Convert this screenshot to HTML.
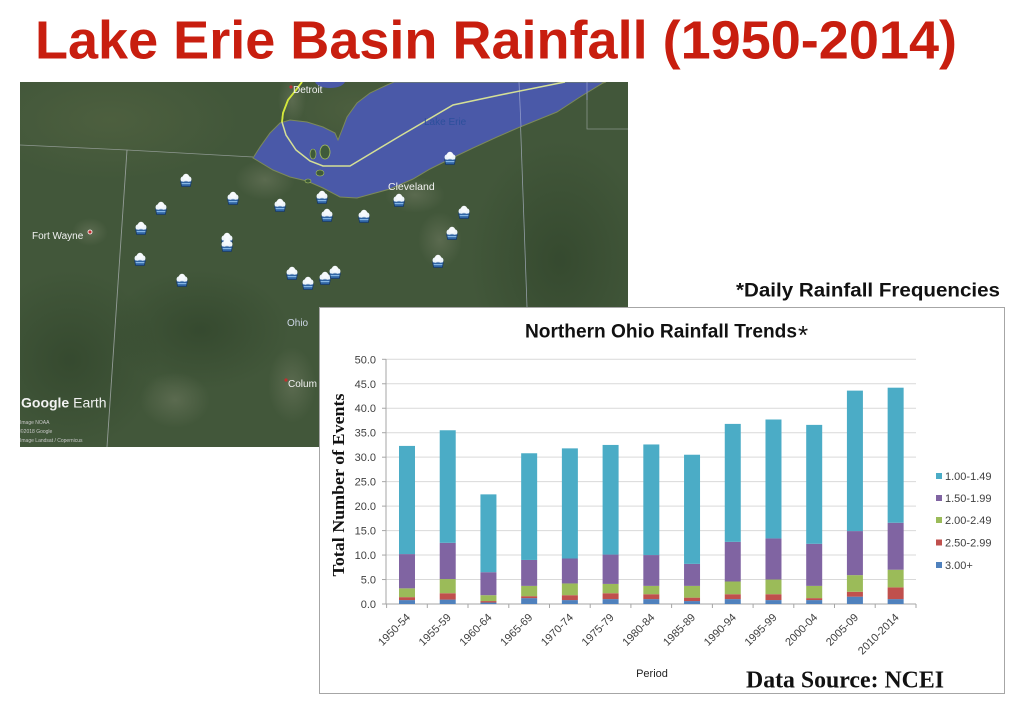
<!DOCTYPE html>
<html>
<head>
<meta charset="utf-8">
<style>
html,body{margin:0;padding:0;background:#fff;}
svg{display:block;}
</style>
</head>
<body>
<svg width="1024" height="717" viewBox="0 0 1024 717" xmlns="http://www.w3.org/2000/svg">
<defs>
  <clipPath id="mapclip"><rect x="20" y="82" width="608" height="365"/></clipPath>
  <radialGradient id="lite" cx="50%" cy="50%" r="50%">
    <stop offset="0" stop-color="#8f937c" stop-opacity="0.32"/>
    <stop offset="1" stop-color="#8f937c" stop-opacity="0"/>
  </radialGradient>
  <radialGradient id="dark" cx="50%" cy="50%" r="50%">
    <stop offset="0" stop-color="#23361f" stop-opacity="0.4"/>
    <stop offset="1" stop-color="#23361f" stop-opacity="0"/>
  </radialGradient>
  <radialGradient id="olive" cx="50%" cy="50%" r="50%">
    <stop offset="0" stop-color="#5a6944" stop-opacity="0.45"/>
    <stop offset="1" stop-color="#5a6944" stop-opacity="0"/>
  </radialGradient>
  <g id="mk">
    <path d="M-5.5,1 h11 l-1.2,5.5 h-8.6 z" fill="#2f64a4" stroke="#183a66" stroke-width="0.8"/>
    <rect x="-4.4" y="3" width="8.8" height="1.2" fill="#86b6e4"/>
    <rect x="-5.2" y="-1.2" width="10.4" height="2.6" fill="#d6e5f3"/>
    <circle cx="-2.7" cy="-1" r="2.7" fill="#eef4fa"/>
    <circle cx="2.7" cy="-1" r="2.7" fill="#eef4fa"/>
    <circle cx="0" cy="-3" r="3.2" fill="#f7fafd"/>
  </g>
</defs>

<!-- Main title -->
<text x="35" y="58.5" font-family="Liberation Sans, Arial, sans-serif" font-weight="bold" font-size="54" fill="#c81e0f" textLength="922" lengthAdjust="spacingAndGlyphs">Lake Erie Basin Rainfall (1950-2014)</text>

<!-- MAP -->
<g clip-path="url(#mapclip)">
  <rect x="20" y="82" width="608" height="365" fill="#42573a"/>
  <ellipse cx="110" cy="120" rx="130" ry="60" fill="url(#olive)"/>
  <ellipse cx="360" cy="110" rx="80" ry="40" fill="url(#olive)"/>
  <ellipse cx="70" cy="360" rx="90" ry="90" fill="url(#dark)"/>
  <ellipse cx="560" cy="260" rx="90" ry="120" fill="url(#dark)"/>
  <ellipse cx="200" cy="330" rx="90" ry="60" fill="url(#dark)"/>
  <ellipse cx="265" cy="180" rx="30" ry="20" fill="url(#lite)"/>
  <ellipse cx="292" cy="100" rx="14" ry="24" fill="url(#lite)"/>
  <ellipse cx="90" cy="232" rx="18" ry="14" fill="url(#lite)"/>
  <ellipse cx="415" cy="195" rx="30" ry="18" fill="url(#lite)"/>
  <ellipse cx="440" cy="240" rx="22" ry="28" fill="url(#lite)"/>
  <ellipse cx="292" cy="385" rx="24" ry="38" fill="url(#lite)"/>
  <ellipse cx="175" cy="400" rx="35" ry="28" fill="url(#lite)"/>

  <!-- state borders -->
  <polyline points="20,145 127,150 253,157" fill="none" stroke="#a7aeae" stroke-width="0.8" opacity="0.75"/>
  <polyline points="127,150 107,447" fill="none" stroke="#a7aeae" stroke-width="0.9" opacity="0.8"/>
  <polyline points="519,82 527,307" fill="none" stroke="#a7b0c0" stroke-width="0.8" opacity="0.8"/>
  <polyline points="587,82 587,129 628,129" fill="none" stroke="#a7aeae" stroke-width="0.8" opacity="0.7"/>

  <!-- Lake St Clair -->
  <ellipse cx="330" cy="81" rx="15" ry="7" fill="#4a59a8"/>
  <!-- Lake Erie -->
  <path d="M253,158 L260,147 L270,133 L280,123 L290,120 L307,122 L323,127 L335,133 L338,140 L342,130 L347,117 L357,103 L370,93 L387,85 L394,82 L606,82 L603,83 L580,97 L557,112 L520,127 L497,137 L473,148 L450,159 L430,169 L413,179 L390,189 L357,198 L340,197 L323,188 L307,181 L290,177 L273,170 Z" fill="#4a59a8" stroke="#7c8a5a" stroke-width="1"/>
  <line x1="519" y1="82" x2="521" y2="127" stroke="#8e98c8" stroke-width="0.8"/>
  <line x1="587" y1="82" x2="587" y2="100" stroke="#8e98c8" stroke-width="0.8"/>
  <!-- islands -->
  <ellipse cx="325" cy="152" rx="5" ry="7" fill="#3e5a3a" stroke="#a8c060" stroke-width="0.8"/>
  <ellipse cx="313" cy="154" rx="3" ry="5" fill="#3e5a3a" stroke="#a8c060" stroke-width="0.6"/>
  <ellipse cx="320" cy="173" rx="4" ry="3" fill="#3e5a3a" stroke="#a8c060" stroke-width="0.6"/>
  <ellipse cx="308" cy="181" rx="3" ry="2" fill="#3e5a3a" stroke="#a8c060" stroke-width="0.6"/>

  <!-- international border -->
  <polyline points="302,82 296,90 288,100 283,113 282,122 286,135 296,150 310,161 323,166 350,166 400,136 453,105 500,95 560,83 565,82" fill="none" stroke="#d5e096" stroke-width="1.5"/>
  <polyline points="302,82 296,90 288,100 283,113 282,122" fill="none" stroke="#d4e83a" stroke-width="1.8"/>

  <!-- labels -->
  <g font-family="Liberation Sans, Arial, sans-serif" fill="#f2f2f2">
    <circle cx="291" cy="87" r="1.6" fill="#c03030"/>
    <text x="293" y="93" font-size="10">Detroit</text>
    <text x="424" y="125" font-size="10" fill="#2c4f9c">Lake Erie</text>
    <text x="388" y="190" font-size="10.5">Cleveland</text>
    <text x="32" y="239" font-size="10">Fort Wayne</text>
    <circle cx="90" cy="232" r="2" fill="#c03030" stroke="#fff" stroke-width="0.8"/>
    <text x="287" y="326" font-size="10" fill="#cdd6e6">Ohio</text>
    <circle cx="286" cy="380" r="1.6" fill="#c03030"/>
    <text x="288" y="387" font-size="10">Colum</text>
    <text x="21" y="407.5" font-size="14"><tspan font-weight="bold">Google</tspan> Earth</text>
    <text x="20" y="424" font-size="5" fill="#c8c8c8">Image NOAA</text>
    <text x="20" y="433" font-size="5" fill="#c8c8c8">©2018 Google</text>
    <text x="20" y="442" font-size="5" fill="#c8c8c8">Image Landsat / Copernicus</text>
  </g>

  <!-- rain markers -->
  <use href="#mk" x="186" y="180"/>
  <use href="#mk" x="233" y="198"/>
  <use href="#mk" x="161" y="208"/>
  <use href="#mk" x="141" y="228"/>
  <use href="#mk" x="140" y="259"/>
  <use href="#mk" x="182" y="280"/>
  <use href="#mk" x="227" y="239"/>
  <use href="#mk" x="227" y="245"/>
  <use href="#mk" x="280" y="205"/>
  <use href="#mk" x="322" y="197"/>
  <use href="#mk" x="327" y="215"/>
  <use href="#mk" x="364" y="216"/>
  <use href="#mk" x="399" y="200"/>
  <use href="#mk" x="450" y="158"/>
  <use href="#mk" x="464" y="212"/>
  <use href="#mk" x="452" y="233"/>
  <use href="#mk" x="438" y="261"/>
  <use href="#mk" x="292" y="273"/>
  <use href="#mk" x="308" y="283"/>
  <use href="#mk" x="325" y="278"/>
  <use href="#mk" x="335" y="272"/>
</g>

<!-- Subtitle -->
<text x="736" y="296.5" font-family="Liberation Sans, Arial, sans-serif" font-weight="bold" font-size="19" fill="#111" textLength="264" lengthAdjust="spacingAndGlyphs">*Daily Rainfall Frequencies</text>

<!-- CHART BOX -->
<rect x="319.5" y="307.5" width="685" height="386" fill="#fff" stroke="#a6a6a6" stroke-width="1"/>

<text x="525" y="337.5" font-family="Liberation Sans, Arial, sans-serif" font-weight="bold" font-size="19" fill="#111" textLength="272" lengthAdjust="spacingAndGlyphs">Northern Ohio Rainfall Trends</text>
<text x="798" y="344" font-family="Liberation Sans, Arial, sans-serif" font-size="26" fill="#111">*</text>

<!-- gridlines -->
<g stroke="#d9d9d9" stroke-width="1">
  <line x1="386" y1="359.3" x2="916" y2="359.3"/>
  <line x1="386" y1="383.77" x2="916" y2="383.77"/>
  <line x1="386" y1="408.24" x2="916" y2="408.24"/>
  <line x1="386" y1="432.71" x2="916" y2="432.71"/>
  <line x1="386" y1="457.18" x2="916" y2="457.18"/>
  <line x1="386" y1="481.65" x2="916" y2="481.65"/>
  <line x1="386" y1="506.12" x2="916" y2="506.12"/>
  <line x1="386" y1="530.59" x2="916" y2="530.59"/>
  <line x1="386" y1="555.06" x2="916" y2="555.06"/>
  <line x1="386" y1="579.53" x2="916" y2="579.53"/>
</g>
<!-- axes -->
<g stroke="#a6a6a6" stroke-width="1">
  <line x1="386" y1="359" x2="386" y2="604"/>
  <line x1="382" y1="359.3" x2="386" y2="359.3"/>
  <line x1="382" y1="383.77" x2="386" y2="383.77"/>
  <line x1="382" y1="408.24" x2="386" y2="408.24"/>
  <line x1="382" y1="432.71" x2="386" y2="432.71"/>
  <line x1="382" y1="457.18" x2="386" y2="457.18"/>
  <line x1="382" y1="481.65" x2="386" y2="481.65"/>
  <line x1="382" y1="506.12" x2="386" y2="506.12"/>
  <line x1="382" y1="530.59" x2="386" y2="530.59"/>
  <line x1="382" y1="555.06" x2="386" y2="555.06"/>
  <line x1="382" y1="579.53" x2="386" y2="579.53"/>
  <line x1="382" y1="604" x2="916" y2="604"/>
  <line x1="386.6" y1="604" x2="386.6" y2="608"/>
  <line x1="427.3" y1="604" x2="427.3" y2="608"/>
  <line x1="468.0" y1="604" x2="468.0" y2="608"/>
  <line x1="508.8" y1="604" x2="508.8" y2="608"/>
  <line x1="549.5" y1="604" x2="549.5" y2="608"/>
  <line x1="590.2" y1="604" x2="590.2" y2="608"/>
  <line x1="630.9" y1="604" x2="630.9" y2="608"/>
  <line x1="671.6" y1="604" x2="671.6" y2="608"/>
  <line x1="712.4" y1="604" x2="712.4" y2="608"/>
  <line x1="753.1" y1="604" x2="753.1" y2="608"/>
  <line x1="793.8" y1="604" x2="793.8" y2="608"/>
  <line x1="834.5" y1="604" x2="834.5" y2="608"/>
  <line x1="875.2" y1="604" x2="875.2" y2="608"/>
  <line x1="916" y1="604" x2="916" y2="608"/>
</g>

<!-- y labels -->
<g font-family="Liberation Sans, Arial, sans-serif" font-size="11" fill="#404040" text-anchor="end">
  <text x="376" y="363.3">50.0</text>
  <text x="376" y="387.8">45.0</text>
  <text x="376" y="412.2">40.0</text>
  <text x="376" y="436.7">35.0</text>
  <text x="376" y="461.2">30.0</text>
  <text x="376" y="485.7">25.0</text>
  <text x="376" y="510.1">20.0</text>
  <text x="376" y="534.6">15.0</text>
  <text x="376" y="559.1">10.0</text>
  <text x="376" y="583.5">5.0</text>
  <text x="376" y="608">0.0</text>
</g>

<text transform="translate(344,485) rotate(-90)" text-anchor="middle" font-family="Liberation Serif, Times New Roman, serif" font-weight="bold" font-size="17" fill="#111" textLength="183" lengthAdjust="spacingAndGlyphs">Total Number of Events</text>

<!-- bars -->
<g>
  <rect x="399" y="600.08" width="16" height="3.92" fill="#4f81bd"/>
  <rect x="399" y="597.15" width="16" height="2.93" fill="#c0504d"/>
  <rect x="399" y="588.34" width="16" height="8.81" fill="#9bbb59"/>
  <rect x="399" y="554.08" width="16" height="34.26" fill="#8064a2"/>
  <rect x="399" y="445.92" width="16" height="108.16" fill="#4bacc6"/>

  <rect x="439.72" y="599.60" width="16" height="4.40" fill="#4f81bd"/>
  <rect x="439.72" y="593.23" width="16" height="6.37" fill="#c0504d"/>
  <rect x="439.72" y="579.04" width="16" height="14.19" fill="#9bbb59"/>
  <rect x="439.72" y="542.83" width="16" height="36.21" fill="#8064a2"/>
  <rect x="439.72" y="430.26" width="16" height="112.57" fill="#4bacc6"/>

  <rect x="480.44" y="602.53" width="16" height="1.47" fill="#4f81bd"/>
  <rect x="480.44" y="601.06" width="16" height="1.47" fill="#c0504d"/>
  <rect x="480.44" y="595.19" width="16" height="5.87" fill="#9bbb59"/>
  <rect x="480.44" y="572.19" width="16" height="23.00" fill="#8064a2"/>
  <rect x="480.44" y="494.37" width="16" height="77.82" fill="#4bacc6"/>

  <rect x="521.16" y="598.13" width="16" height="5.87" fill="#4f81bd"/>
  <rect x="521.16" y="596.17" width="16" height="1.96" fill="#c0504d"/>
  <rect x="521.16" y="585.89" width="16" height="10.28" fill="#9bbb59"/>
  <rect x="521.16" y="559.95" width="16" height="25.94" fill="#8064a2"/>
  <rect x="521.16" y="453.26" width="16" height="106.69" fill="#4bacc6"/>

  <rect x="561.88" y="600.08" width="16" height="3.92" fill="#4f81bd"/>
  <rect x="561.88" y="595.19" width="16" height="4.89" fill="#c0504d"/>
  <rect x="561.88" y="583.45" width="16" height="11.74" fill="#9bbb59"/>
  <rect x="561.88" y="558.49" width="16" height="24.96" fill="#8064a2"/>
  <rect x="561.88" y="448.37" width="16" height="110.12" fill="#4bacc6"/>

  <rect x="602.6" y="599.11" width="16" height="4.89" fill="#4f81bd"/>
  <rect x="602.6" y="593.23" width="16" height="5.88" fill="#c0504d"/>
  <rect x="602.6" y="583.93" width="16" height="9.30" fill="#9bbb59"/>
  <rect x="602.6" y="554.57" width="16" height="29.36" fill="#8064a2"/>
  <rect x="602.6" y="444.94" width="16" height="109.63" fill="#4bacc6"/>

  <rect x="643.32" y="599.11" width="16" height="4.89" fill="#4f81bd"/>
  <rect x="643.32" y="594.21" width="16" height="4.90" fill="#c0504d"/>
  <rect x="643.32" y="585.89" width="16" height="8.32" fill="#9bbb59"/>
  <rect x="643.32" y="555.06" width="16" height="30.83" fill="#8064a2"/>
  <rect x="643.32" y="444.46" width="16" height="110.60" fill="#4bacc6"/>

  <rect x="684.04" y="601.06" width="16" height="2.94" fill="#4f81bd"/>
  <rect x="684.04" y="597.64" width="16" height="3.42" fill="#c0504d"/>
  <rect x="684.04" y="585.89" width="16" height="11.75" fill="#9bbb59"/>
  <rect x="684.04" y="563.87" width="16" height="22.02" fill="#8064a2"/>
  <rect x="684.04" y="454.73" width="16" height="109.14" fill="#4bacc6"/>

  <rect x="724.76" y="599.11" width="16" height="4.89" fill="#4f81bd"/>
  <rect x="724.76" y="594.21" width="16" height="4.90" fill="#c0504d"/>
  <rect x="724.76" y="581.49" width="16" height="12.72" fill="#9bbb59"/>
  <rect x="724.76" y="541.85" width="16" height="39.64" fill="#8064a2"/>
  <rect x="724.76" y="423.90" width="16" height="117.95" fill="#4bacc6"/>

  <rect x="765.48" y="600.08" width="16" height="3.92" fill="#4f81bd"/>
  <rect x="765.48" y="594.21" width="16" height="5.87" fill="#c0504d"/>
  <rect x="765.48" y="579.53" width="16" height="14.68" fill="#9bbb59"/>
  <rect x="765.48" y="538.42" width="16" height="41.11" fill="#8064a2"/>
  <rect x="765.48" y="419.50" width="16" height="118.92" fill="#4bacc6"/>

  <rect x="806.2" y="600.08" width="16" height="3.92" fill="#4f81bd"/>
  <rect x="806.2" y="598.13" width="16" height="1.95" fill="#c0504d"/>
  <rect x="806.2" y="585.89" width="16" height="12.24" fill="#9bbb59"/>
  <rect x="806.2" y="543.80" width="16" height="42.09" fill="#8064a2"/>
  <rect x="806.2" y="424.88" width="16" height="118.92" fill="#4bacc6"/>

  <rect x="846.92" y="596.66" width="16" height="7.34" fill="#4f81bd"/>
  <rect x="846.92" y="591.77" width="16" height="4.89" fill="#c0504d"/>
  <rect x="846.92" y="575.13" width="16" height="16.64" fill="#9bbb59"/>
  <rect x="846.92" y="531.08" width="16" height="44.05" fill="#8064a2"/>
  <rect x="846.92" y="390.62" width="16" height="140.46" fill="#4bacc6"/>

  <rect x="887.64" y="599.11" width="16" height="4.89" fill="#4f81bd"/>
  <rect x="887.64" y="587.36" width="16" height="11.75" fill="#c0504d"/>
  <rect x="887.64" y="569.74" width="16" height="17.62" fill="#9bbb59"/>
  <rect x="887.64" y="522.76" width="16" height="46.98" fill="#8064a2"/>
  <rect x="887.64" y="387.69" width="16" height="135.07" fill="#4bacc6"/>
</g>

<!-- x labels -->
<g font-family="Liberation Sans, Arial, sans-serif" font-size="11" fill="#404040" text-anchor="end">
  <text transform="translate(411,618) rotate(-45)">1950-54</text>
  <text transform="translate(451.7,618) rotate(-45)">1955-59</text>
  <text transform="translate(492.4,618) rotate(-45)">1960-64</text>
  <text transform="translate(533.2,618) rotate(-45)">1965-69</text>
  <text transform="translate(573.9,618) rotate(-45)">1970-74</text>
  <text transform="translate(614.6,618) rotate(-45)">1975-79</text>
  <text transform="translate(655.3,618) rotate(-45)">1980-84</text>
  <text transform="translate(696,618) rotate(-45)">1985-89</text>
  <text transform="translate(736.8,618) rotate(-45)">1990-94</text>
  <text transform="translate(777.5,618) rotate(-45)">1995-99</text>
  <text transform="translate(818.2,618) rotate(-45)">2000-04</text>
  <text transform="translate(858.9,618) rotate(-45)">2005-09</text>
  <text transform="translate(899.6,618) rotate(-45)">2010-2014</text>
</g>

<text x="652" y="677" text-anchor="middle" font-family="Liberation Sans, Arial, sans-serif" font-size="11" fill="#222">Period</text>

<!-- legend -->
<g font-family="Liberation Sans, Arial, sans-serif" font-size="11" fill="#404040">
  <rect x="936" y="473" width="6" height="6" fill="#4bacc6"/>
  <text x="945" y="480">1.00-1.49</text>
  <rect x="936" y="495" width="6" height="6" fill="#8064a2"/>
  <text x="945" y="502">1.50-1.99</text>
  <rect x="936" y="517" width="6" height="6" fill="#9bbb59"/>
  <text x="945" y="524">2.00-2.49</text>
  <rect x="936" y="539.5" width="6" height="6" fill="#c0504d"/>
  <text x="945" y="546.5">2.50-2.99</text>
  <rect x="936" y="562" width="6" height="6" fill="#4f81bd"/>
  <text x="945" y="569">3.00+</text>
</g>

<text x="746" y="687.5" font-family="Liberation Serif, Times New Roman, serif" font-weight="bold" font-size="24" fill="#111" textLength="198" lengthAdjust="spacingAndGlyphs">Data Source: NCEI</text>
</svg>
</body>
</html>
